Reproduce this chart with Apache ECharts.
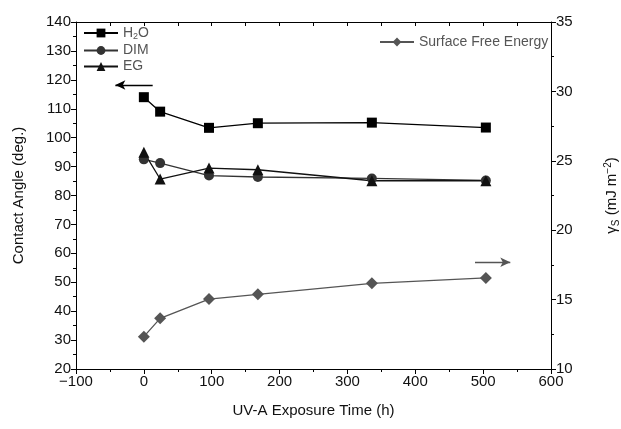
<!DOCTYPE html>
<html><head><meta charset="utf-8">
<script src="https://cdn.jsdelivr.net/npm/echarts@6/dist/echarts.min.js"></script>
<style>html,body{margin:0;padding:0;background:#fff}#c{width:621px;height:429px}</style>
</head><body><div id="c"></div>
<script>
var times = [0, 24, 96, 168, 336, 504];
var h2o = [114.0, 109.0, 103.4, 105.0, 105.2, 103.5];
var dim = [92.5, 91.2, 86.9, 86.4, 85.9, 85.2];
var eg  = [95.0, 85.7, 89.5, 88.9, 85.1, 85.1];
var sfe = [12.33, 13.65, 15.04, 15.38, 16.17, 16.56];
var xTicks = [-100, 0, 100, 200, 300, 400, 500, 600];

function pairs(v){ return times.map(function(t,i){return [t, v[i]];}); }
var FONT = 'Liberation Sans, Arial, sans-serif';
var chart = echarts.init(document.getElementById('c'), null, {renderer:'canvas'});
var axisCommon = {
  axisLine:{show:true,onZero:false,lineStyle:{color:'#000',width:1}},
  axisTick:{show:true,inside:false,length:5,lineStyle:{color:'#000'}},
  minorTick:{show:true,splitNumber:2,length:3,lineStyle:{color:'#000'}},
  splitLine:{show:false},
  axisLabel:{color:'#111',fontSize:15,fontFamily:FONT,margin:5}
};
chart.setOption({
  animation:false,
  backgroundColor:'#fff',
  grid:{left:76,right:70,top:22,bottom:60,containLabel:false,outerBoundsMode:'none'},
  legend:[{
    data:['H2O','DIM','EG'], orient:'vertical', left:78, top:21, itemWidth:34, itemHeight:11, itemGap:2, itemTextGap:4,
    textStyle:{color:'#555',fontSize:14,fontFamily:FONT,
      rich:{sub:{fontSize:9,verticalAlign:'bottom',padding:[8,0,0,0],color:'#555',fontFamily:FONT}}},
    formatter:function(n){return n==='H2O'?'H{sub|2}O':n;}
  },{
    data:['Surface Free Energy'], left:374, top:30, itemWidth:34, itemHeight:11, itemTextGap:5,
    textStyle:{color:'#555',fontSize:14,fontFamily:FONT}
  }],
  xAxis:[Object.assign({}, axisCommon, {
    type:'value', min:-100, max:600, interval:100, position:'bottom',
    name:'UV-A Exposure Time (h)', nameLocation:'middle', nameGap:34,
    nameTextStyle:{color:'#111',fontSize:15,fontFamily:FONT},
    axisLabel:Object.assign({}, axisCommon.axisLabel, {formatter:function(v){return xTicks.indexOf(v)>=0?(v<0?'\u2212'+(-v):String(v)):'';}})
  }), {
    type:'value', min:-100, max:600, interval:50, position:'top',
    axisLine:{show:true,onZero:false,lineStyle:{color:'#000'}}, axisTick:{show:true,inside:true,length:4,lineStyle:{color:'#000'}},
    axisLabel:{show:false}, splitLine:{show:false}
  }],
  yAxis:[Object.assign({}, axisCommon, {
    type:'value', min:20, max:140, interval:10, position:'left',
    name:'Contact Angle (deg.)', nameLocation:'middle', nameGap:50,
    nameTextStyle:{color:'#111',fontSize:15,fontFamily:FONT}
  }), Object.assign({}, axisCommon, {
    type:'value', min:10, max:35, interval:5, position:'right',
    name:'\u03b3{sub|S} (mJ m{sup|\u22122})', nameLocation:'middle', nameGap:52, nameRotate:90,
    nameTextStyle:{color:'#111',fontSize:15,fontFamily:FONT,
      rich:{sub:{fontSize:10,verticalAlign:'bottom',padding:[8,0,0,0],fontFamily:FONT,color:'#111'},
            sup:{fontSize:10,verticalAlign:'top',padding:[0,0,8,0],fontFamily:FONT,color:'#111'}}}
  })],
  series:[{
    name:'H2O', type:'line', data:pairs(h2o), symbol:'rect', symbolSize:10,
    lineStyle:{color:'#000',width:1.3}, itemStyle:{color:'#000'},
    markLine:{silent:true, symbol:['arrow','none'], symbolSize:[7,10], label:{show:false},
      lineStyle:{color:'#000',type:'solid',width:1.3},
      data:[[{coord:[-42,118.2]},{coord:[13,118.2]}]]}
  },{
    name:'DIM', type:'line', data:pairs(dim), symbol:'circle', symbolSize:10,
    lineStyle:{color:'#333',width:1.3}, itemStyle:{color:'#333'}
  },{
    name:'EG', type:'line', data:pairs(eg), symbol:'triangle', symbolSize:11,
    lineStyle:{color:'#111',width:1.3}, itemStyle:{color:'#111'}
  },{
    name:'Surface Free Energy', type:'line', yAxisIndex:1, data:pairs(sfe), symbol:'diamond', symbolSize:12,
    lineStyle:{color:'#555',width:1.3}, itemStyle:{color:'#555'},
    markLine:{silent:true, symbol:['none','arrow'], symbolSize:[7,10], label:{show:false},
      lineStyle:{color:'#555',type:'solid',width:1.3},
      data:[[{coord:[488,17.69]},{coord:[540,17.69]}]]}
  }]
});
</script></body></html>
